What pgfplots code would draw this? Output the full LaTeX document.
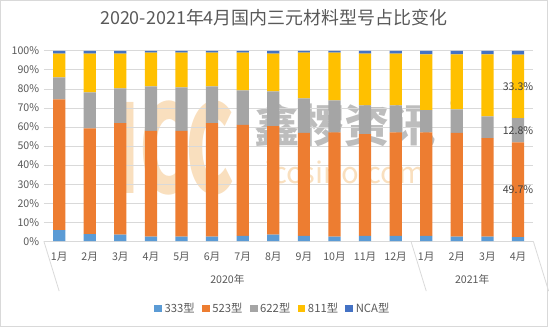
\documentclass[border=0pt]{standalone}
\usepackage{fontspec}
\setmainfont{Noto Sans CJK SC}
\usepackage{pgfplots}
\pgfplotsset{compat=1.18}
\usepackage{pgfplotstable}
\definecolor{cA}{HTML}{5B9BD5}
\definecolor{cB}{HTML}{ED7D31}
\definecolor{cC}{HTML}{A5A5A5}
\definecolor{cD}{HTML}{FFC000}
\definecolor{cE}{HTML}{4472C4}
\definecolor{txt}{HTML}{595959}
\definecolor{lbl}{HTML}{404040}
\definecolor{grd}{HTML}{D9D9D9}
\definecolor{wmo}{HTML}{F9DFBE}
\definecolor{wmg}{HTML}{BDBDBD}

\pgfplotstableread{
x a b c d e
0 5.9 68.6 11.5 12.6 1.4
1 3.8 55.5 18.9 20.4 1.4
2 3.5 58.5 18.3 18.3 1.4
3 2.4 55.5 23.4 17.8 0.9
4 2.4 55.5 22.9 18.3 0.9
5 2.4 59.6 19.3 17.8 0.9
6 2.8 58.3 18.1 19.9 0.9
7 3.5 56.9 18.3 19.9 1.4
8 2.8 54.1 18.1 24.1 0.9
9 2.4 54.8 16.8 25.1 0.9
10 2.8 53.4 15.2 27.2 1.4
11 2.8 54.4 14.2 27.2 1.4
12 2.8 54.4 11.6 29.3 1.9
13 2.4 54.5 12.4 28.8 1.9
14 2.4 51.7 11.5 32.5 1.9
15 2.2 49.7 12.8 33.3 2.0
}\data

\begin{document}
\begin{tikzpicture}
\begin{scope}[x=0.75pt,y=0.75pt]
\path[use as bounding box] (0,0) rectangle (549,328);
\draw[grd] (0.5,0.5) rectangle (548.5,327.5);
\node[txt, font=\fontsize{13.5}{16}\selectfont] at (274.5,310) {2020-2021年4月国内三元材料型号占比变化};
% watermark
\node[wmo, font=\fontsize{92}{100}\selectfont\bfseries, xscale=0.6, inner sep=0] at (175,180) {ICC};
\node[wmg, font=\fontsize{34}{40}\selectfont\bfseries, inner sep=0] at (346,202) {鑫椤资讯};
\node[wmo, font=\fontsize{22}{26}\selectfont, inner sep=0] at (346,155) {iccsino.com};
\node[wmg, font=\fontsize{13}{15}\selectfont, inner sep=0] at (456,221) {®};
\end{scope}
\begin{axis}[
  at={(33pt,64.5pt)}, anchor=south west,
  width=368.25pt, height=143.25pt, scale only axis,
  ybar stacked, bar width=9.2pt,
  xmin=-0.5, xmax=15.5, ymin=0, ymax=100,
  clip=false,
  axis line style={draw=none},
  major tick length=0pt, tick style={draw=none},
  ymajorgrids, grid style={grd, line width=0.6pt},
  ytick={0,10,...,100},
  yticklabels={0\%,10\%,20\%,30\%,40\%,50\%,60\%,70\%,80\%,90\%,100\%},
  yticklabel style={font=\fontsize{8}{9}\selectfont, color=txt},
  xtick={0,...,15},
  xticklabels={1月,2月,3月,4月,5月,6月,7月,8月,9月,10月,11月,12月,1月,2月,3月,4月},
  xticklabel style={font=\fontsize{8}{9}\selectfont, color=txt, anchor=center, yshift=-12pt},
  legend style={at={(0.4684,-0.353)}, anchor=center, draw=none, fill=none,
    font=\fontsize{8.5}{9}\selectfont, text=txt,
    /tikz/every even column/.append style={column sep=3.5pt}},
  legend columns=5,
  legend image code/.code={\fill[#1,draw=none] (0pt,-2.9pt) rectangle (5.8pt,2.9pt);},
]
\addplot[fill=cA, draw=none] table[x=x,y=a]{\data};
\addplot[fill=cB, draw=none] table[x=x,y=b]{\data};
\addplot[fill=cC, draw=none] table[x=x,y=c]{\data};
\addplot[fill=cD, draw=none] table[x=x,y=d]{\data};
\addplot[fill=cE, draw=none] table[x=x,y=e]{\data};
\legend{333型,523型,622型,811型,NCA型}
\draw[grd, line width=0.6pt] (axis cs:-0.5,0) -- ++(0,-37.5pt);
\draw[grd, line width=0.6pt] (axis cs:11.5,0) -- ++(0,-37.5pt);
\draw[grd, line width=0.6pt] (axis cs:15.5,0) -- ++(0,-37.5pt);
\node[txt, font=\fontsize{8}{9}\selectfont] at ([yshift=-29pt]axis cs:5.5,0) {2020年};
\node[txt, font=\fontsize{8}{9}\selectfont] at ([yshift=-29pt]axis cs:13.5,0) {2021年};
\coordinate (l1) at (axis cs:15,81.35);
\coordinate (l2) at (axis cs:15,58.3);
\coordinate (l3) at (axis cs:15,27.05);
\end{axis}
\node[lbl, font=\fontsize{8}{9}\selectfont] at (l1) {33.3\%};
\node[lbl, font=\fontsize{8}{9}\selectfont] at (l2) {12.8\%};
\node[lbl, font=\fontsize{8}{9}\selectfont] at (l3) {49.7\%};
\end{tikzpicture}
\end{document}
